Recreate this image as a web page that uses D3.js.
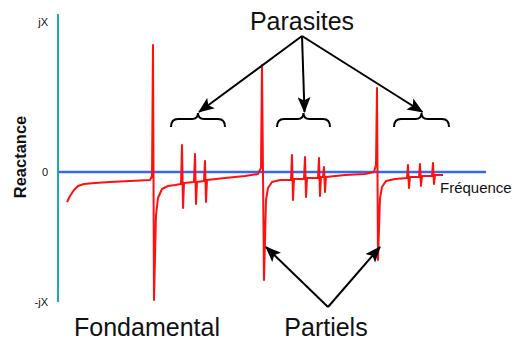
<!DOCTYPE html>
<html>
<head>
<meta charset="utf-8">
<script src="https://cdn.jsdelivr.net/npm/d3@7/dist/d3.min.js"></script>
<style>
    html, body { margin: 0; padding: 0; background: #fff; }
    text { font-family: "Liberation Sans", Arial, sans-serif; fill: #111; }
</style>
</head>
<body>
<svg id="chart" width="516" height="342"></svg>
<script>
    'use strict';

    // frequency (arbitrary units) and reactance of the resonator
    var frequence = [
        9, 12, 16, 20, 26, 37, 52, 72, 92, 94, 95, 96, 98, 100, 104, 110, 117,
        123, 124, 125, 126, 136, 137, 138, 139, 146, 147, 148, 149,
        167, 187, 200, 203, 204, 206, 208, 210, 214, 222,
        233, 234, 235, 236, 246, 247, 248, 249, 260, 261, 262, 263, 265, 266, 267, 268,
        287, 307, 316, 318, 319, 320, 322, 324, 328, 337,
        349, 350, 351, 352, 361, 362, 363, 364, 374, 375, 376, 377, 385
    ];
    var reactance = [
        -30, -24, -18, -14, -12, -11, -10, -9, -8, -4, 127, -128, -43, -26, -17, -14, -13,
        -12, 27, -36, -11, -10, 18, -32, -10, -9, 11, -30, -8,
        -6, -4, -2, 4, 107, -108, -28, -16, -10, -8,
        -8, 17, -28, -7, -7, 15, -25, -6, -6, 14, -24, -5, -5, 5, -20, -5,
        -3, -2, 0, 7, 84, -88, -26, -15, -9, -7,
        -6, 7, -16, -5, -5, 8, -14, -4, -4, 9, -12, -3, -3
    ];

    var yTicks = [-130, 0, 150];
    var yTickLabels = ['-jX', '0', 'jX'];

    // groups of spurious modes (start, end) and partial resonances
    var parasites = [[113, 167], [219, 272], [336, 391]];
    var partiels = [206, 320];

    var svg = d3.select('#chart'),
        x = d3.scaleLinear().domain([0, 428]).range([58, 486]),
        y = d3.scaleLinear().domain([-130, 150]).range([302, 22]),
        points = frequence.map(function (f, i) {
            return [f, reactance[i]];
        }),
        line;

    var defs = svg.append('defs');

    defs.append('marker')
        .attr('id', 'head')
        .attr('markerUnits', 'userSpaceOnUse')
        .attr('viewBox', '0 0 16 13')
        .attr('markerWidth', 16)
        .attr('markerHeight', 13)
        .attr('refX', 15)
        .attr('refY', 6.5)
        .attr('orient', 'auto')
        .append('path')
        .attr('d', 'M0,0 L16,6.5 L0,13 L3.5,6.5 Z')
        .attr('fill', '#000');

    // frequency axis
    svg.append('line')
        .attr('x1', x(0))
        .attr('x2', x(428))
        .attr('y1', y(0))
        .attr('y2', y(0))
        .attr('stroke', '#3a64f5')
        .attr('stroke-width', 2.5);

    // reactance axis
    svg.append('line')
        .attr('x1', x(0))
        .attr('x2', x(0))
        .attr('y1', y(158))
        .attr('y2', y(-130))
        .attr('stroke', '#22aaa6')
        .attr('stroke-width', 2);

    svg.selectAll('text.tick')
        .data(yTicks)
        .enter()
        .append('text')
        .attr('class', 'tick')
        .attr('x', x(0) - 10)
        .attr('y', function (d) { return y(d); })
        .attr('dy', '0.35em')
        .attr('text-anchor', 'end')
        .style('font-size', '11px')
        .text(function (d, i) { return yTickLabels[i]; });

    svg.append('text')
        .attr('transform', 'translate(26,' + y(15) + '),rotate(-90)')
        .attr('text-anchor', 'middle')
        .style('font-size', '16.5px')
        .style('font-weight', 'bold')
        .text('Reactance');

    svg.append('text')
        .attr('x', x(382))
        .attr('y', y(-21))
        .style('font-size', '15px')
        .text('Fréquence');

    line = d3.line()
        .x(function (d) { return x(d[0]); })
        .y(function (d) { return y(d[1]); });

    svg.append('path')
        .datum(points)
        .attr('d', line)
        .attr('fill', 'none')
        .attr('stroke', '#ff1010')
        .attr('stroke-width', 2)
        .attr('stroke-linejoin', 'round');

    function brace(d) {
        var x1 = x(d[0]),
            x2 = x(d[1]),
            mid = (x1 + x2) / 2,
            b = y(53);

        return 'M' + x1 + ',' + (b + 8) +
            'Q' + x1 + ',' + b + ' ' + (x1 + 7) + ',' + b +
            'L' + (mid - 6) + ',' + b +
            'Q' + mid + ',' + b + ' ' + mid + ',' + (b - 6) +
            'Q' + mid + ',' + b + ' ' + (mid + 6) + ',' + b +
            'L' + (x2 - 7) + ',' + b +
            'Q' + x2 + ',' + b + ' ' + x2 + ',' + (b + 8);
    }

    svg.selectAll('path.brace')
        .data(parasites)
        .enter()
        .append('path')
        .attr('class', 'brace')
        .attr('d', brace)
        .attr('fill', 'none')
        .attr('stroke', '#000')
        .attr('stroke-width', 2);

    svg.selectAll('line.arrow-p')
        .data(parasites)
        .enter()
        .append('line')
        .attr('class', 'arrow-p')
        .attr('x1', x(244))
        .attr('y1', 36)
        .attr('x2', function (d) { return x((d[0] + d[1]) / 2) + 1; })
        .attr('y2', y(60))
        .attr('stroke', '#000')
        .attr('stroke-width', 2)
        .attr('marker-end', 'url(#head)');

    svg.selectAll('line.arrow-q')
        .data(partiels)
        .enter()
        .append('line')
        .attr('class', 'arrow-q')
        .attr('x1', x(270))
        .attr('y1', y(-135))
        .attr('x2', function (d) { return x(d) + 2; })
        .attr('y2', y(-75))
        .attr('stroke', '#000')
        .attr('stroke-width', 2)
        .attr('marker-end', 'url(#head)');

    svg.append('text')
        .attr('x', x(244))
        .attr('y', 30)
        .attr('text-anchor', 'middle')
        .style('font-size', '25px')
        .text('Parasites');

    svg.append('text')
        .attr('x', 147)
        .attr('y', 336)
        .attr('text-anchor', 'middle')
        .style('font-size', '25px')
        .text('Fondamental');

    svg.append('text')
        .attr('x', 326)
        .attr('y', 336)
        .attr('text-anchor', 'middle')
        .style('font-size', '25px')
        .text('Partiels');
</script>
</body>
</html>
